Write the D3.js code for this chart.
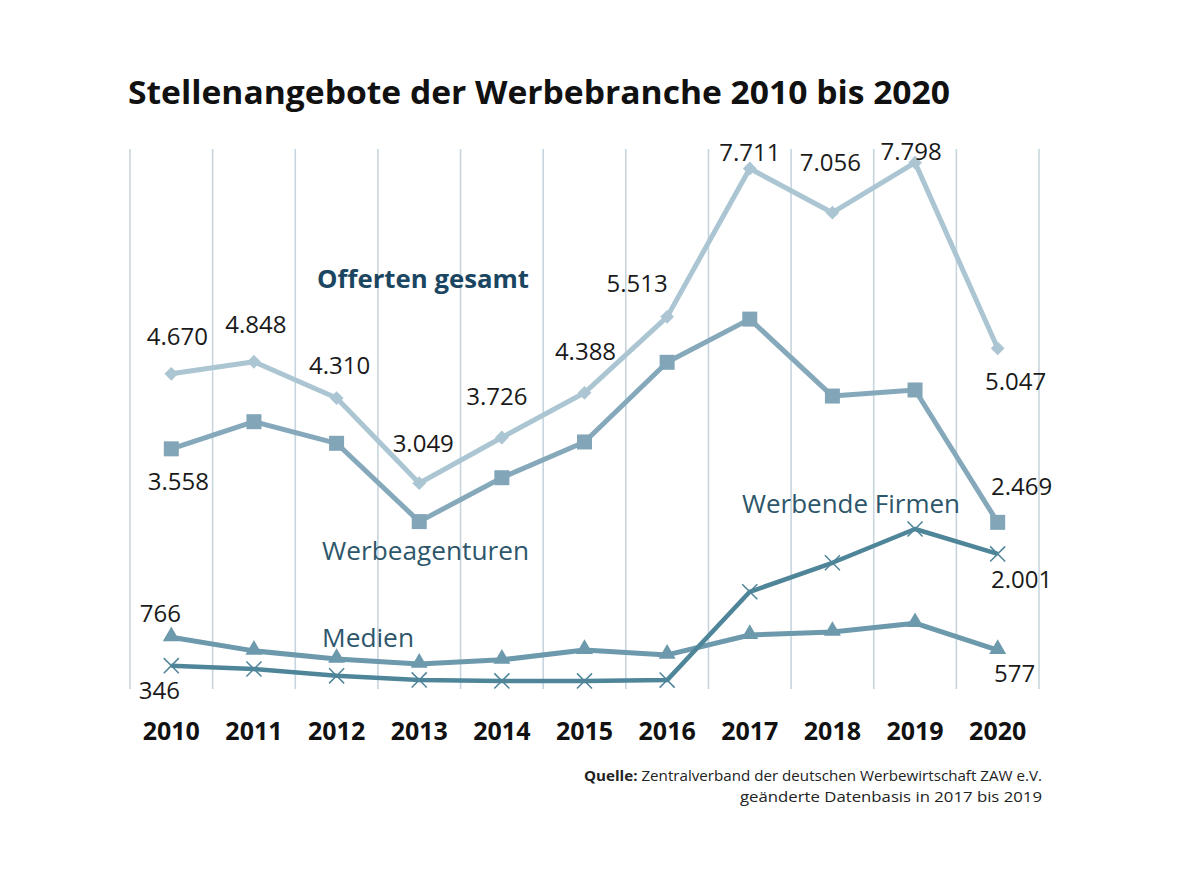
<!DOCTYPE html>
<html>
<head>
<meta charset="utf-8">
<script src="https://cdn.jsdelivr.net/npm/d3@7"></script>
<style>
  body { margin: 0; background: #ffffff; }
  svg { display: block; }
</style>
</head>
<body>
<script>

// years on the x axis
var years = ["2010", "2011", "2012", "2013", "2014", "2015", "2016", "2017", "2018", "2019", "2020"];

// values per series
var gesamt = [4670, 4848, 4310, 3049, 3726, 4388, 5513, 7711, 7056, 7798, 5047];
var agenturen = [3558, 3960, 3640, 2480, 3130, 3660, 4840, 5480, 4340, 4430, 2469];
var firmen = [346, 296, 195, 135, 120, 120, 132, 1440, 1870, 2370, 2001];
var medien = [766, 565, 445, 372, 432, 578, 505, 800, 845, 975, 577];

// which values are printed as labels (index into the series)
var gesamt_labels = [0, 1, 2, 3, 4, 5, 6, 7, 8, 9, 10];
var agenturen_labels = [0, 10];
var firmen_labels = [0, 10];
var medien_labels = [0, 10];

var y_max = 8000;

// german number format 4.670
var fmt = d3.formatLocale({decimal: ",", thousands: ".", grouping: [3], currency: ["", "€"]}).format(",");

var width = 1200;
var height = 875;

var svg = d3.select("body")
            .append("svg")
            .attr("width", width)
            .attr("height", height);

// scales
var x_scale = d3.scaleBand()
    .domain(years)
    .range([130, 1039]);

var y_scale = d3.scaleLinear()
    .domain([0, y_max])
    .range([689, 149]);

function cx(i) {
  return x_scale(years[i]) + x_scale.bandwidth() / 2;
}

// title
svg.append("text")
   .attr("x", 128)
   .attr("y", 104)
   .attr("font-family", "Open Sans, sans-serif")
   .attr("font-weight", "bold")
   .attr("font-size", "33px")
   .attr("fill", "#111111")
   .attr("textLength", 822)
   .attr("lengthAdjust", "spacingAndGlyphs")
   .text("Stellenangebote der Werbebranche 2010 bis 2020");

// vertical grid lines at band borders
var grid_x = years.map(function(d) { return x_scale(d); });
grid_x.push(x_scale.range()[1]);

svg.append("g")
   .selectAll("line")
   .data(grid_x)
   .enter()
   .append("line")
   .attr("x1", function(d) { return d; })
   .attr("x2", function(d) { return d; })
   .attr("y1", y_scale(y_max))
   .attr("y2", y_scale(0))
   .attr("stroke", "#c7d5de")
   .attr("stroke-width", 1.6);

// x axis with bold years
var x_axis = d3.axisBottom(x_scale).tickSize(0).tickPadding(0);

var axis_g = svg.append("g")
   .attr("transform", "translate(0,722)")
   .call(x_axis);

axis_g.select(".domain").remove();
axis_g.selectAll("text")
   .attr("dy", "0.71em")
   .attr("y", 0)
   .attr("font-family", "Open Sans, sans-serif")
   .attr("font-weight", "bold")
   .attr("font-size", "25px")
   .attr("fill", "#111111");

var line = d3.line()
    .x(function(d, i) { return cx(i); })
    .y(function(d) { return y_scale(d); });

function draw_line(values, colour, w) {
  svg.append("path")
     .datum(values)
     .attr("d", line)
     .attr("fill", "none")
     .attr("stroke", colour)
     .attr("stroke-width", w)
     .attr("stroke-linejoin", "round");
}

// lines
draw_line(medien, "#6d99ad", 5);
draw_line(firmen, "#4f8599", 4.5);
draw_line(agenturen, "#85a9bb", 5);
draw_line(gesamt, "#abc6d2", 5);

// triangles for medien
svg.append("g")
   .selectAll("path")
   .data(medien)
   .enter()
   .append("path")
   .attr("d", d3.symbol().type(d3.symbolTriangle).size(125))
   .attr("transform", function(d, i) {
     return "translate(" + cx(i) + "," + (y_scale(d) - 1) + ")";
   })
   .attr("fill", "#6d99ad");

// crosses for werbende firmen
svg.append("g")
   .selectAll("path")
   .data(firmen)
   .enter()
   .append("path")
   .attr("d", d3.symbol().type(d3.symbolX).size(150))
   .attr("transform", function(d, i) {
     return "translate(" + cx(i) + "," + y_scale(d) + ")";
   })
   .attr("fill", "none")
   .attr("stroke", "#4f8599")
   .attr("stroke-width", 1.5);

// squares for werbeagenturen
svg.append("g")
   .selectAll("rect")
   .data(agenturen)
   .enter()
   .append("rect")
   .attr("x", function(d, i) { return cx(i) - 7.5; })
   .attr("y", function(d) { return y_scale(d) - 7.5; })
   .attr("width", 15)
   .attr("height", 15)
   .attr("fill", "#82a6b8");

// diamonds for gesamt
svg.append("g")
   .selectAll("path")
   .data(gesamt)
   .enter()
   .append("path")
   .attr("d", d3.symbol().type(d3.symbolSquare).size(95))
   .attr("transform", function(d, i) {
     return "translate(" + cx(i) + "," + y_scale(d) + ") rotate(45)";
   })
   .attr("fill", "#abc6d2");

// label offsets from the point, [dx, dy]
var gesamt_offsets = [[6, -29], [2, -29], [3, -24], [4, -31], [-5, -32], [1, -33],
                      [-30, -25], [0, -8], [-2, -42], [-4, -3], [18, 42]];
var agenturen_offsets = [[7, 41], [24, -27]];
var firmen_offsets = [[-12, 33], [24, 34]];
var medien_offsets = [[-11, -15], [17, 32]];

function draw_values(values, which, offsets) {
  svg.append("g")
     .selectAll("text")
     .data(which)
     .enter()
     .append("text")
     .attr("x", function(d, k) { return cx(d) + offsets[k][0]; })
     .attr("y", function(d, k) { return y_scale(values[d]) + offsets[k][1]; })
     .attr("text-anchor", "middle")
     .attr("font-family", "Open Sans, sans-serif")
     .attr("font-size", "24px")
     .attr("fill", "#1a1a1a")
     .text(function(d) { return fmt(values[d]); });
}

draw_values(gesamt, gesamt_labels, gesamt_offsets);
draw_values(agenturen, agenturen_labels, agenturen_offsets);
draw_values(firmen, firmen_labels, firmen_offsets);
draw_values(medien, medien_labels, medien_offsets);

// series names
function series_name(txt, x, y, len, bold, colour) {
  svg.append("text")
     .attr("x", x)
     .attr("y", y)
     .attr("font-family", "Open Sans, sans-serif")
     .attr("font-weight", bold ? "bold" : "normal")
     .attr("font-size", "25px")
     .attr("fill", colour)
     .attr("textLength", len)
     .attr("lengthAdjust", "spacingAndGlyphs")
     .text(txt);
}

series_name("Offerten gesamt", 317, 288, 212, true, "#1b4661");
series_name("Werbeagenturen", 322, 560, 207, false, "#2d566a");
series_name("Werbende Firmen", 742, 513, 218, false, "#2d566a");
series_name("Medien", 322, 647, 92, false, "#2d566a");

// source
var source = svg.append("text")
   .attr("x", 1042)
   .attr("y", 781)
   .attr("text-anchor", "end")
   .attr("font-family", "Open Sans, sans-serif")
   .attr("font-size", "15px")
   .attr("fill", "#222222")
   .attr("textLength", 458)
   .attr("lengthAdjust", "spacingAndGlyphs");

source.append("tspan")
   .attr("font-weight", "bold")
   .text("Quelle: ");
source.append("tspan")
   .text("Zentralverband der deutschen Werbewirtschaft ZAW e.V.");

svg.append("text")
   .attr("x", 1042)
   .attr("y", 802)
   .attr("text-anchor", "end")
   .attr("font-family", "Open Sans, sans-serif")
   .attr("font-size", "15px")
   .attr("fill", "#222222")
   .attr("textLength", 302)
   .attr("lengthAdjust", "spacingAndGlyphs")
   .text("geänderte Datenbasis in 2017 bis 2019");

</script>
</body>
</html>
